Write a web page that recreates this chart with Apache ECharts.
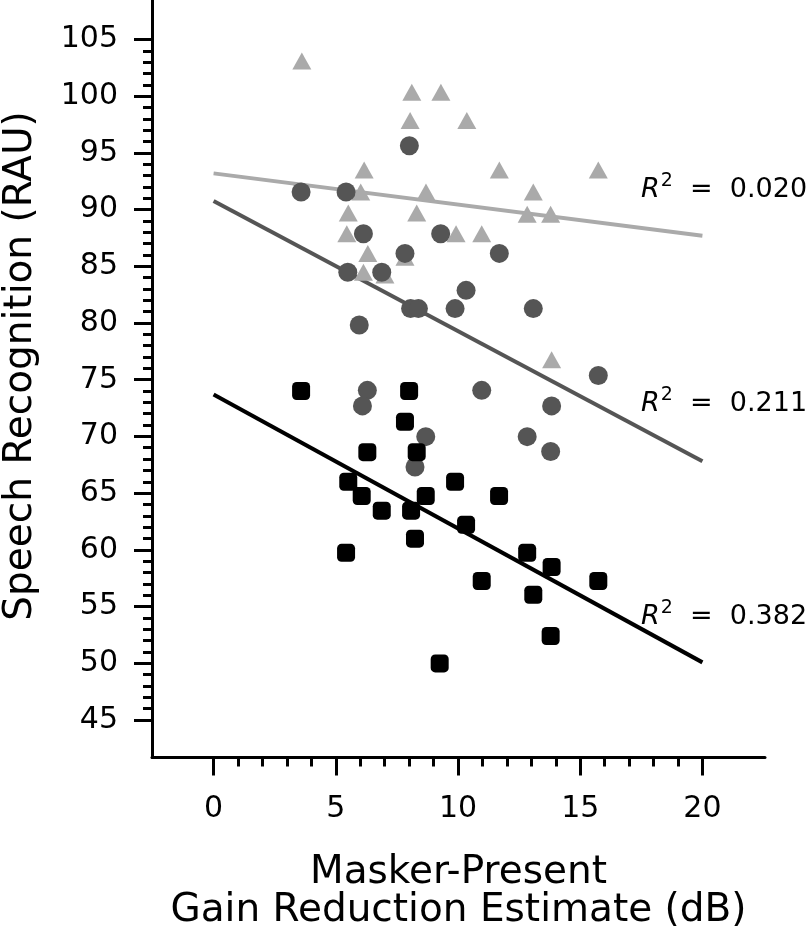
<!DOCTYPE html>
<html>
<head>
<meta charset="utf-8">
<script src="https://cdn.jsdelivr.net/npm/echarts@6/dist/echarts.min.js"></script>
<style>html,body{margin:0;padding:0;background:#fff;}#c{width:810px;height:935px;}</style>
</head>
<body>
<div id="c"></div>
<script>
// ---- data ----
var triX = [3.61, 8.11, 9.30, 8.04, 10.36, 6.16, 11.69, 15.74, 6.02, 8.69, 13.08, 5.51, 8.31, 12.83, 13.79, 5.45, 9.92, 10.97, 6.31, 7.83, 6.13, 7.01, 13.83];
var triY = [103.1, 100.35, 100.35, 97.87, 97.87, 93.5, 93.5, 93.5, 91.55, 91.55, 91.55, 89.7, 89.7, 89.6, 89.6, 87.88, 87.88, 87.88, 86.14, 85.8, 84.48, 84.23, 76.76];
var circX = [8.01, 3.58, 5.42, 6.13, 9.29, 7.83, 11.69, 5.49, 6.88, 10.33, 8.06, 8.38, 9.88, 13.08, 5.96, 6.29, 6.09, 10.97, 13.83, 8.68, 12.83, 13.79, 8.24, 15.74];
var circY = [95.63, 91.55, 91.55, 87.88, 87.88, 86.14, 86.14, 84.48, 84.48, 82.88, 81.27, 81.27, 81.27, 81.27, 79.82, 74.06, 72.69, 74.06, 72.69, 69.98, 69.98, 68.67, 67.3, 75.37];
var sqX = [3.58, 8.0, 7.83, 6.29, 8.31, 5.51, 9.88, 6.06, 8.68, 11.68, 6.88, 8.08, 10.33, 8.24, 5.42, 12.83, 13.83, 10.97, 13.08, 13.79, 15.74, 9.25];
var sqY = [74.0, 74.0, 71.29, 68.61, 68.61, 66.0, 66.0, 64.74, 64.74, 64.74, 63.45, 63.45, 62.2, 60.98, 59.73, 59.73, 58.48, 57.25, 56.03, 52.4, 57.25, 49.98];
var fitX = [0, 20];
var fitTri = [93.2, 87.7];
var fitCirc = [90.76, 67.8];
var fitSq = [73.7, 50.07];
var r2Values = ['0.020', '0.211', '0.382'];
var xMajor = [0, 5, 10, 15, 20];
var yMajor = [45, 50, 55, 60, 65, 70, 75, 80, 85, 90, 95, 100, 105];
var xTitle = 'Masker-Present\nGain Reduction Estimate (dB)';
var yTitle = 'Speech Recognition (RAU)';

function zip(a, b) { return a.map(function (v, i) { return [v, b[i]]; }); }
var xMinor = [], yMinor = [];
for (var i = 1; i < 20; i++) if (i % 5) xMinor.push(i);
for (var j = 46; j < 105; j++) if (j % 5) yMinor.push(j);

var FONT = 'DejaVu Sans';
var XMIN = -2.52, XMAX = 22.56, YMIN = 41.68, YMAX = 108.49;

var chart = echarts.init(document.getElementById('c'), null, {renderer: 'canvas'});
var axisLineStyle = {color: '#000', width: 3};
var option = {
  animation: false,
  backgroundColor: '#fff',
  grid: {left: 152, top: 0, width: 613, height: 765},
  xAxis: [
    {type: 'value', min: XMIN, max: XMAX, position: 'bottom',
     axisLine: {show: true, onZero: false, lineStyle: axisLineStyle},
     axisTick: {show: true, customValues: xMajor, length: 18, lineStyle: {color: '#000', width: 3}},
     axisLabel: {show: true, customValues: xMajor, margin: 37, fontFamily: FONT, fontSize: 30, color: '#000'},
     splitLine: {show: false},
     name: xTitle, nameLocation: 'middle', nameGap: 96,
     nameTextStyle: {fontFamily: FONT, fontSize: 39, color: '#000', lineHeight: 38}},
    {type: 'value', min: XMIN, max: XMAX, position: 'bottom',
     axisLine: {show: false, onZero: false},
     axisTick: {show: true, customValues: xMinor, length: 9, lineStyle: {color: '#000', width: 3}},
     axisLabel: {show: false}, splitLine: {show: false}}
  ],
  yAxis: [
    {type: 'value', min: YMIN, max: YMAX, position: 'left',
     axisLine: {show: true, onZero: false, lineStyle: axisLineStyle},
     axisTick: {show: true, customValues: yMajor, length: 18, lineStyle: {color: '#000', width: 3}},
     axisLabel: {show: true, customValues: yMajor, margin: 34, fontFamily: FONT, fontSize: 30, color: '#000'},
     splitLine: {show: false}},
    {type: 'value', min: YMIN, max: YMAX, position: 'left',
     axisLine: {show: false, onZero: false},
     axisTick: {show: true, customValues: yMinor, length: 9, lineStyle: {color: '#000', width: 3}},
     axisLabel: {show: false}, splitLine: {show: false}}
  ],
  series: [
    {type: 'line', data: zip(fitX, fitTri), symbol: 'none', lineStyle: {color: '#aaaaaa', width: 4}, z: 2},
    {type: 'line', data: zip(fitX, fitCirc), symbol: 'none', lineStyle: {color: '#555555', width: 4}, z: 2},
    {type: 'line', data: zip(fitX, fitSq), symbol: 'none', lineStyle: {color: '#000000', width: 4}, z: 2},
    {type: 'scatter', data: zip(triX, triY), symbol: 'triangle', symbolSize: [19, 17], itemStyle: {color: '#aaaaaa', opacity: 1}, z: 3},
    {type: 'scatter', data: zip(circX, circY), symbol: 'circle', symbolSize: 19, itemStyle: {color: '#555555', opacity: 1}, z: 4},
    {type: 'scatter', data: zip(sqX, sqY), symbol: 'roundRect', symbolSize: 18, itemStyle: {color: '#000000', opacity: 1}, z: 5}
  ],
  graphic: [
    {type: 'text', x: 21, y: 366, rotation: Math.PI / 2,
     style: {text: yTitle, fontFamily: FONT, fontSize: 39, fill: '#000', align: 'center', verticalAlign: 'middle'}}
  ]
};
var r2Y = [190, 404, 617];
r2Values.forEach(function (v, k) {
  option.graphic.push({type: 'text', x: 641, y: r2Y[k],
    style: {text: '{r|R}{s|2}{t|  =  ' + v + '}', fill: '#000', verticalAlign: 'middle', align: 'left',
      rich: {
        r: {fontFamily: FONT, fontSize: 27, fontStyle: 'italic', fill: '#000'},
        s: {fontFamily: FONT, fontSize: 19, fill: '#000', padding: [0, 0, 18, 1]},
        t: {fontFamily: FONT, fontSize: 27, fill: '#000'}
      }}});
});
chart.setOption(option);
</script>
</body>
</html>
